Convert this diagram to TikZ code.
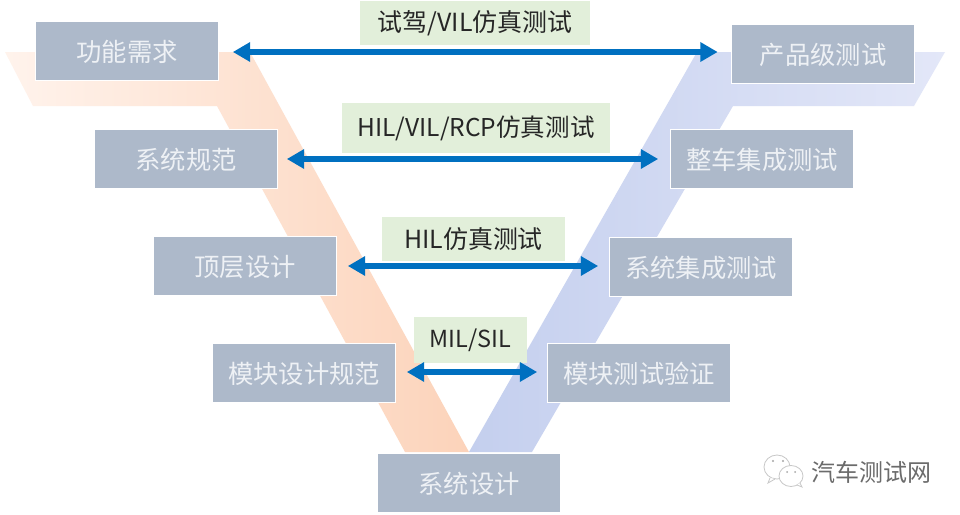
\documentclass[tikz,border=0pt]{standalone}
\usepackage{fontspec}
\setmainfont{Noto Sans CJK SC}
\usetikzlibrary{arrows.meta}
\definecolor{boxfill}{HTML}{ADB9CA}
\definecolor{boxtext}{HTML}{EEF1F5}
\definecolor{labelfill}{HTML}{E2EFDA}
\definecolor{arrowblue}{HTML}{0070C0}
\tikzset{
  stagebox/.style={draw=white,line width=0.75pt,fill=boxfill,text=boxtext,minimum width=137pt,minimum height=44pt,inner sep=0pt,text height=16pt,text depth=0pt,font=\fontsize{19pt}{20pt}\selectfont},
  testlabel/.style={fill=labelfill,inner sep=0pt,text=black!85,font=\fontsize{18.7pt}{20pt}\selectfont},
  biarrow/.style={draw=arrowblue,line width=4pt,{Triangle[length=13pt,width=14pt]}-{Triangle[length=13pt,width=14pt]}},
  chatbubble/.style={draw=black!22,line width=0.6pt,fill=white},
  chatdot/.style={fill=black!35},
  mark text/.style={text=black!58,font=\fontsize{18pt}{20pt}\selectfont}
}
\begin{document}
\begin{tikzpicture}[x=0.75pt,y=-0.75pt]
\useasboundingbox (0,0) rectangle (960,514);
\fill[white] (0,0) rectangle (960,514);
% V bands
\shade[left color={rgb,255:red,255;green,243;blue,236},right color={rgb,255:red,252;green,211;blue,186}]
  (5,52) -- (250,52) -- (469,452) -- (405,452) -- (217,106) -- (33,106) -- cycle;
\shade[left color={rgb,255:red,196;green,207;blue,238},right color={rgb,255:red,227;green,231;blue,248}]
  (469,452) -- (697,52) -- (945,52) -- (914,106) -- (733,106) -- (532,452) -- cycle;
% left stages
\node[stagebox] (req)  at (127,51)  {功能需求};
\node[stagebox] (spec) at (186,159) {系统规范};
\node[stagebox] (top)  at (245,266) {顶层设计};
\node[stagebox] (mod)  at (304,373) {模块设计规范};
\node[stagebox] (sys)  at (469,483) {系统设计};
% right stages
\node[stagebox] (prod) at (823,54)  {产品级测试};
\node[stagebox] (veh)  at (762,159) {整车集成测试};
\node[stagebox] (int)  at (701,267) {系统集成测试};
\node[stagebox] (ver)  at (639,373) {模块测试验证};
% test labels
\node[testlabel,minimum width=172.5pt,minimum height=33pt] (l1) at (475,23) {\raisebox{-2.2pt}{试驾/VIL仿真测试}};
\node[testlabel,minimum width=201pt,minimum height=37.5pt,font=\fontsize{18.4pt}{20pt}\selectfont] (l2) at (476,128) {\raisebox{-2.2pt}{HIL/VIL/RCP仿真测试}};
\node[testlabel,minimum width=137pt,minimum height=33pt] (l3) at (473.5,239) {HIL仿真测试};
\node[testlabel,minimum width=84.5pt,minimum height=34.5pt,font=\fontsize{17.6pt}{20pt}\selectfont] (l4) at (470.5,340) {\raisebox{-2.2pt}{MIL/SIL}};
% connectors
\draw[biarrow] ([shift={(14,1)}]req.east) -- ([shift={(-13.5,-2)}]prod.west);
\draw[biarrow] ([shift={(9,0)}]spec.east) -- ([shift={(-12,0)}]veh.west);
\draw[biarrow] ([shift={(11,0)}]top.east) -- ([shift={(-11,-1)}]int.west);
\draw[biarrow] ([shift={(11,-1)}]mod.east) -- ([shift={(-10,-1)}]ver.west);
% watermark
\draw[chatbubble] (777,467) ellipse [x radius=13,y radius=12];
\draw[chatbubble] (770,478) -- (768,483) -- (775,479);
\draw[chatbubble] (791,476) ellipse [x radius=12,y radius=10.5];
\draw[chatbubble] (797,485) -- (802,487) -- (800,483);
\fill[chatdot] (773,461) circle (1.2) (783,461) circle (1.2) (787,472) circle (1) (795,472) circle (1);
\node[mark text,anchor=west,inner sep=0pt] (wm) at (811,472) {汽车测试网};
\end{tikzpicture}
\end{document}
